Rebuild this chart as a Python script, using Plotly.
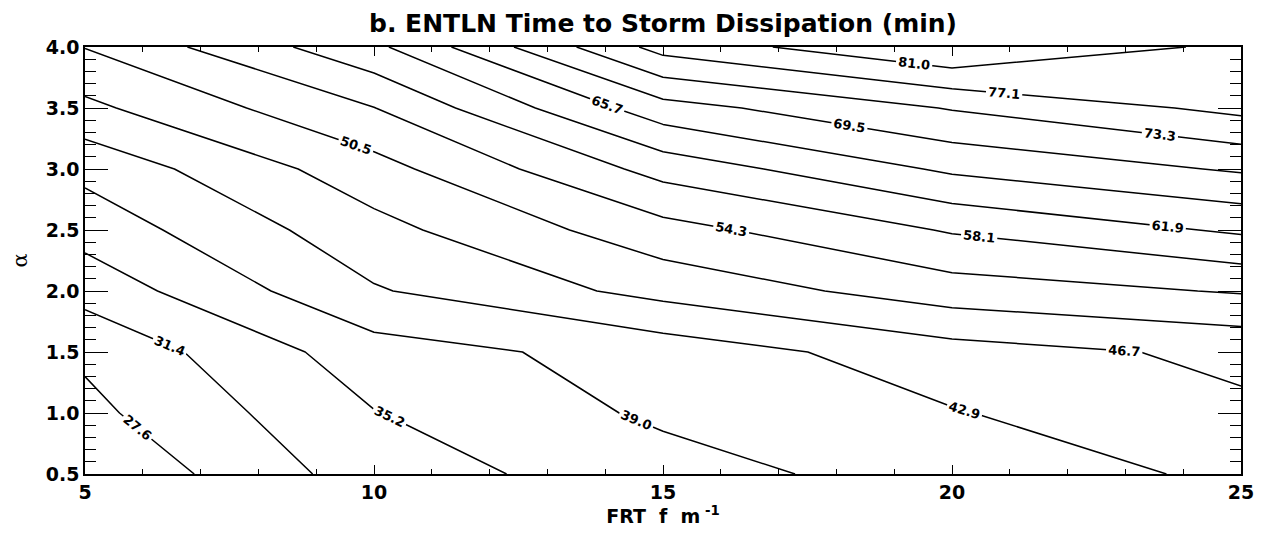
import plotly.graph_objects as go

# grid: FRT (f m^-1) along x, alpha along y
frt = [5, 10, 15, 20, 25]
alpha = [0.5, 1.0, 1.5, 2.0, 2.5, 3.0, 3.5, 4.0]

# time to storm dissipation (min), one row per alpha value
dissipation = [
    [24.1, 33.4, 37.4, 41.0, 43.5],
    [26.6, 35.1, 39.75, 42.6, 46.0],
    [28.3, 37.4, 40.6, 45.1, 47.5],
    [32.8, 42.5, 47.9, 52.5, 54.6],
    [36.7, 45.4, 52.9, 58.45, 62.5],
    [40.1, 49.0, 59.5, 66.4, 70.0],
    [45.75, 54.2, 68.0, 73.6, 78.2],
    [50.6, 61.0, 78.6, 84.8, 80.05],
]

# 15 contour levels, 27.6 ... 81.0
level_start = 27.615
level_end = 80.955
level_step = 3.81

x_ticks = [5, 10, 15, 20, 25]
y_ticks = [0.5, 1.0, 1.5, 2.0, 2.5, 3.0, 3.5, 4.0]

FONT = 'DejaVu Sans'


def create_contour_chart() -> go.Figure:
    """Black line contour plot with inline labels"""

    fig = go.Figure(go.Contour(
        x=frt,
        y=alpha,
        z=dissipation,
        contours=dict(
            coloring='lines',
            start=level_start,
            end=level_end,
            size=level_step,
            showlabels=True,
            labelformat='.1f',
            labelfont=dict(family=FONT, size=13, color='black', weight='bold'),
        ),
        colorscale=[[0, 'black'], [1, 'black']],
        showscale=False,
        line=dict(width=1.5, smoothing=0),
        hoverinfo='skip',
    ))

    tick_font = dict(family=FONT, size=19, color='black', weight='bold')

    # the page adds an 8px body margin, so the figure is sized to fit inside it
    fig.update_layout(
        width=1262,
        height=532,
        margin=dict(l=77, r=29, t=39, b=66),
        plot_bgcolor='white',
        paper_bgcolor='white',
        title=dict(
            text='b. ENTLN Time to Storm Dissipation (min)',
            font=dict(family=FONT, size=25, color='black', weight='bold'),
            x=0.5, xref='paper', xanchor='center',
            y=1 - 15 / 532, yref='container', yanchor='middle',
        ),
        xaxis=dict(
            range=[5, 25],
            tickvals=x_ticks,
            ticks='inside', ticklen=9, tickwidth=1.2, tickcolor='black',
            minor=dict(dtick=1, ticks='inside', ticklen=5, tickwidth=1, tickcolor='black'),
            showline=True, linecolor='black', linewidth=1.5, mirror='ticks',
            showgrid=False, zeroline=False, automargin=False,
            tickfont=tick_font,
            title=dict(text='FRT  f  m<sup> -1</sup>',
                       font=dict(family=FONT, size=19, color='black', weight='bold'),
                       standoff=4),
        ),
        yaxis=dict(
            range=[0.5, 4.0],
            tickvals=y_ticks,
            tickformat='.1f',
            ticks='inside', ticklen=23, tickwidth=1.2, tickcolor='black',
            minor=dict(dtick=0.1, ticks='inside', ticklen=11, tickwidth=1, tickcolor='black'),
            showline=True, linecolor='black', linewidth=1.5, mirror='ticks',
            showgrid=False, zeroline=False, automargin=False,
            tickfont=tick_font,
            title=dict(text='α', font=dict(family='DejaVu Serif', size=21, color='black'),
                       standoff=18),
        ),
    )

    return fig


fig = create_contour_chart()
fig.write_html("out.html")
